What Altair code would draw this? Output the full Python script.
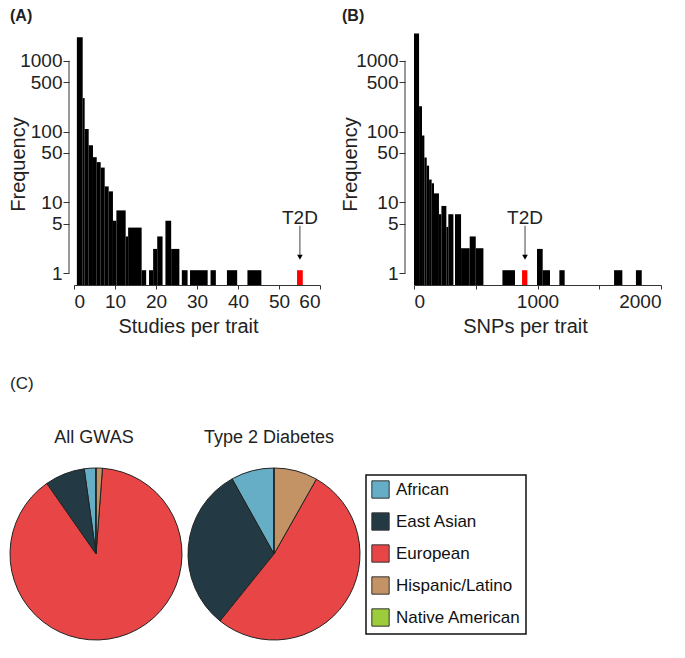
import altair as alt
import pandas as pd

FONT = "Liberation Sans"

# ---------------- Panel A : studies per trait ----------------
a_start = [0.7, 2.12, 2.6, 3.58, 4.63, 5.54, 6.51, 7.49, 8.46, 9.5, 10.34, 12.6, 13.2,
           16.5, 18.3, 19.3, 20.3, 22.3, 23.7, 26.3, 28.3, 33.3, 37.3, 42.3]
a_end = [2.12, 2.6, 3.58, 4.63, 5.54, 6.51, 7.49, 8.46, 9.5, 10.34, 12.6, 13.2, 16.5,
         17.6, 19.3, 20.3, 21.6, 23.7, 25.7, 27.7, 32.6, 34.6, 39.8, 45.7]
a_count = [2150, 297, 109, 64, 43.5, 37, 31, 16.8, 14.3, 5.5, 7.7, 3.3, 4.4,
           1.1, 1.1, 2.2, 3.3, 5.5, 2.2, 1.1, 1.1, 1.1, 1.1, 1.1]
a_t2d_start = [54.4]
a_t2d_end = [55.8]
a_t2d_count = [1.1]
a_t2d_mark = [55.1]
a_xticks = [0, 10, 20, 30, 40, 50, 60]

# ---------------- Panel B : SNPs per trait ----------------
b_start = [0, 41, 65, 84, 103, 122, 143, 162, 202, 222, 262, 278, 332, 381, 451, 500,
           716, 996, 1042, 1177, 1620, 1797]
b_end = [41, 65, 84, 103, 122, 143, 162, 202, 222, 262, 278, 319, 381, 451, 500, 562,
         818, 1042, 1101, 1220, 1687, 1844]
b_count = [2430, 228, 88, 43, 33, 21, 18.6, 13.4, 6.8, 8.9, 4.5, 6.8, 6.8, 2.25, 3.3, 2.25,
           1.1, 2.2, 1.1, 1.1, 1.1, 1.1]
b_t2d_start = [875]
b_t2d_end = [918]
b_t2d_count = [1.1]
b_t2d_mark = [899]
b_xticks = [0, 500, 1000, 1500, 2000]

y_ticks = [1, 5, 10, 50, 100, 500, 1000]
Y_MIN, Y_MAX = 0.68, 2470

# annotation heights (data units on the log frequency axis)
arrow_top = [4.66]
arrow_bottom = [1.8]
arrow_head = [1.68]
label_base = [5.0]

# ---------------- Panel C : ancestry pies ----------------
categories = ["African", "East Asian", "European", "Hispanic/Latino", "Native American"]
colors = ["#65aec6", "#233a44", "#e84646", "#c39366", "#9ccc3c"]
all_gwas_pct = [2.2, 7.5, 89.1, 1.2, 0.0]
t2d_pct = [8.1, 31.1, 52.6, 8.2, 0.0]
pie_titles = ["All GWAS", "Type 2 Diabetes"]

H = 252


def hist_panel(start, end, count, t_start, t_end, t_count, t_mark, xticks, xtitle,
               width, yoffset, ytitle_x, ytitle_y, xtitle_x, letter, letter_x):
    df = pd.DataFrame({"start": start, "end": end, "count": count})
    dft = pd.DataFrame({"start": t_start, "end": t_end, "count": t_count})
    dfa = pd.DataFrame({"ax": t_mark, "top": arrow_top, "bot": arrow_bottom,
                        "head": arrow_head, "lab": label_base})
    dfy = pd.DataFrame({"lo": [min(y_ticks)], "hi": [max(y_ticks)]})

    xs = alt.Scale(domain=[xticks[0], xticks[-1]], nice=False, zero=False)
    ys = alt.Scale(type="log", domain=[Y_MIN, Y_MAX], nice=False)
    xa = alt.Axis(values=xticks, title=xtitle, grid=False, tickSize=4, labelPadding=3,
                  titlePadding=5, titleX=xtitle_x, format="d")
    ya = alt.Axis(values=y_ticks, title="Frequency", grid=False, domain=False, tickSize=6,
                  labelPadding=1, offset=yoffset, format="d", titleX=ytitle_x,
                  titleY=ytitle_y)

    bars = alt.Chart(df).mark_rect(color="#000000").encode(
        x=alt.X("start:Q", scale=xs, axis=xa), x2="end:Q",
        y=alt.Y("count:Q", scale=ys, axis=ya), y2=alt.datum(Y_MIN))
    red = alt.Chart(dft).mark_rect(color="#ff0000").encode(
        x=alt.X("start:Q", scale=xs, axis=xa), x2="end:Q",
        y=alt.Y("count:Q", scale=ys, axis=ya), y2=alt.datum(Y_MIN))
    yline = alt.Chart(dfy).mark_rule(color="#333333", strokeWidth=1).encode(
        x=alt.value(-yoffset), y=alt.Y("lo:Q", scale=ys, axis=ya), y2="hi:Q")
    arrow = alt.Chart(dfa).mark_rule(color="#444444", strokeWidth=1).encode(
        x=alt.X("ax:Q", scale=xs, axis=xa), y=alt.Y("top:Q", scale=ys, axis=ya), y2="bot:Q")
    head = alt.Chart(dfa).mark_point(shape="triangle-down", filled=True, color="#000000",
                                     opacity=1, size=32).encode(
        x=alt.X("ax:Q", scale=xs, axis=xa), y=alt.Y("head:Q", scale=ys, axis=ya))
    lab = alt.Chart(dfa).mark_text(text="T2D", font=FONT, fontSize=19, color="#222222",
                                   baseline="alphabetic", align="center").encode(
        x=alt.X("ax:Q", scale=xs, axis=xa), y=alt.Y("lab:Q", scale=ys, axis=ya))
    let = alt.Chart(dfa).mark_text(text=letter, font=FONT, fontSize=16, fontWeight="bold",
                                   color="#222222", align="left",
                                   baseline="alphabetic").encode(
        x=alt.value(letter_x), y=alt.value(-12))
    return alt.layer(bars, red, yline, arrow, head, lab, let).properties(width=width, height=H)


panel_a = hist_panel(a_start, a_end, a_count, a_t2d_start, a_t2d_end, a_t2d_count,
                     a_t2d_mark, a_xticks, "Studies per trait", 246, 5, -41, 131, 114,
                     "(A)", -64)
panel_b = hist_panel(b_start, b_end, b_count, b_t2d_start, b_t2d_end, b_t2d_count,
                     b_t2d_mark, b_xticks, "SNPs per trait", 247, 9, -45, 131, 111,
                     "(B)", -72)

# pies
order_vals = list(range(len(categories) - 1, -1, -1))
pie1_df = pd.DataFrame({"category": categories, "pct": all_gwas_pct, "ord": order_vals})
pie2_df = pd.DataFrame({"category": categories, "pct": t2d_pct, "ord": order_vals})

cscale = alt.Scale(domain=categories, range=colors)
legend = alt.Legend(title=None, orient="none", legendX=292, legendY=442, symbolType="square",
                    symbolSize=300, symbolStrokeColor="#333333", symbolStrokeWidth=1,
                    labelFontSize=17, labelFont=FONT, labelColor="#111111", labelOffset=6,
                    rowPadding=9, padding=5, strokeColor="#111111")

R = 86
pie_cx = [22, 200]
pie_cy = 209


def pie(df, cx):
    return alt.Chart(df).mark_arc(outerRadius=R, stroke="#222222", strokeWidth=1).encode(
        theta=alt.Theta("pct:Q", stack=True),
        color=alt.Color("category:N", scale=cscale, legend=legend),
        order=alt.Order("ord:Q"),
        x=alt.value(cx), y=alt.value(pie_cy))


tdf = pd.DataFrame({"k": [0]})
t1 = alt.Chart(tdf).mark_text(text=pie_titles[0], font=FONT, fontSize=18, color="#222222",
                              baseline="alphabetic").encode(x=alt.value(20), y=alt.value(98))
t2 = alt.Chart(tdf).mark_text(text=pie_titles[1], font=FONT, fontSize=18, color="#222222",
                              baseline="alphabetic").encode(x=alt.value(195), y=alt.value(98))
tc = alt.Chart(tdf).mark_text(text="(C)", font=FONT, fontSize=17, color="#222222",
                              align="left", baseline="alphabetic").encode(
    x=alt.value(-64), y=alt.value(44))

panel_c = alt.layer(pie(pie1_df, pie_cx[0]), pie(pie2_df, pie_cx[1]), t1, t2, tc).resolve_scale(
    theta="independent").properties(width=246, height=300)

chart = alt.concat(panel_a, panel_b, panel_c, columns=2,
                   spacing={"row": 60, "column": 94}, bounds="flush").properties(
    padding=0
).configure(font=FONT).configure_view(strokeWidth=0).configure_axis(
    labelFont=FONT, labelFontSize=19, labelColor="#222222", titleFont=FONT,
    titleFontSize=20, titleFontWeight="normal", titleColor="#222222",
    tickColor="#333333", domainColor="#333333", tickWidth=1, domainWidth=1
).configure_legend(strokeWidth=1.5)

chart.save("out.html", embed_options={"renderer": "svg", "actions": False})
